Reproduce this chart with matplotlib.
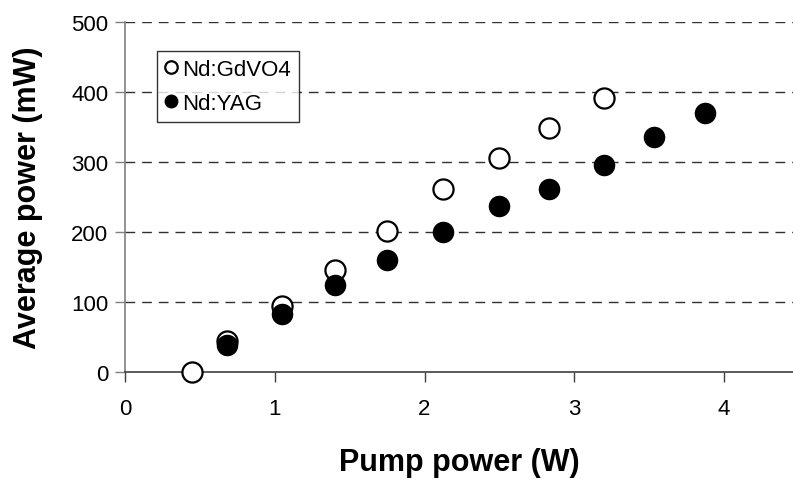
import matplotlib
matplotlib.use("Agg")
import matplotlib.pyplot as plt

# Data
pump_gdvo4 = [0.45, 0.68, 1.05, 1.40, 1.75, 2.12, 2.50, 2.83, 3.20]
power_gdvo4 = [0, 45, 94, 146, 201, 261, 305, 349, 392]
pump_yag = [0.68, 1.05, 1.40, 1.75, 2.12, 2.50, 2.83, 3.20, 3.53, 3.87]
power_yag = [38, 83, 124, 160, 200, 237, 262, 296, 335, 370]
xticks = [0, 1, 2, 3, 4]
yticks = [0, 100, 200, 300, 400, 500]

plt.rcParams['font.family'] = ['Liberation Sans', 'DejaVu Sans']
plt.rcParams['lines.scale_dashes'] = False

W, H = 793, 485
fig = plt.figure(figsize=(W / 100, H / 100), dpi=100)
left, right, top, bottom = 125, 793, 23, 373
ax = fig.add_axes([left / W, 1 - bottom / H, (right - left) / W, (bottom - top) / H])

ax.set_xlim(0, 4.46)
ax.set_ylim(0, 500)

for y in yticks[1:]:
    ax.axhline(y, color='#303030', lw=1.0, ls=(0, (7, 5)), zorder=1)

ax.plot(pump_gdvo4, power_gdvo4, 'o', ms=14.5, mfc='white', mec='black', mew=1.6,
        label='Nd:GdVO4', clip_on=False, zorder=3)
ax.plot(pump_yag, power_yag, 'o', ms=14.5, mfc='black', mec='black', mew=1.0,
        label='Nd:YAG', clip_on=False, zorder=3)

ax.set_xticks(xticks)
ax.set_yticks(yticks)
ax.tick_params(axis='both', direction='out', length=7, width=1, labelsize=16,
               colors='black')
ax.tick_params(axis='y', pad=5, color='#808080')
ax.tick_params(axis='x', pad=12, color='#404040')

for s in ['top', 'right']:
    ax.spines[s].set_visible(False)
ax.spines['left'].set_color('#808080')
ax.spines['bottom'].set_color('#404040')
ax.spines['left'].set_linewidth(1.2)
ax.spines['bottom'].set_linewidth(1.2)

ax.set_xlabel('Pump power (W)', fontsize=22, fontweight='bold', labelpad=20)
ax.set_ylabel('Average power (mW)', fontsize=22, fontweight='bold', labelpad=20)

leg = ax.legend(loc='upper left', bbox_to_anchor=(157 / W, 1 - 52 / H),
                bbox_transform=fig.transFigure, fontsize=16, frameon=True,
                fancybox=False, edgecolor='black', markerscale=0.62,
                handlelength=0.55, handletextpad=0.25, borderpad=0.35,
                labelspacing=0.6, borderaxespad=0)
leg.get_frame().set_linewidth(1.0)

fig.savefig('out.png', dpi=100)
